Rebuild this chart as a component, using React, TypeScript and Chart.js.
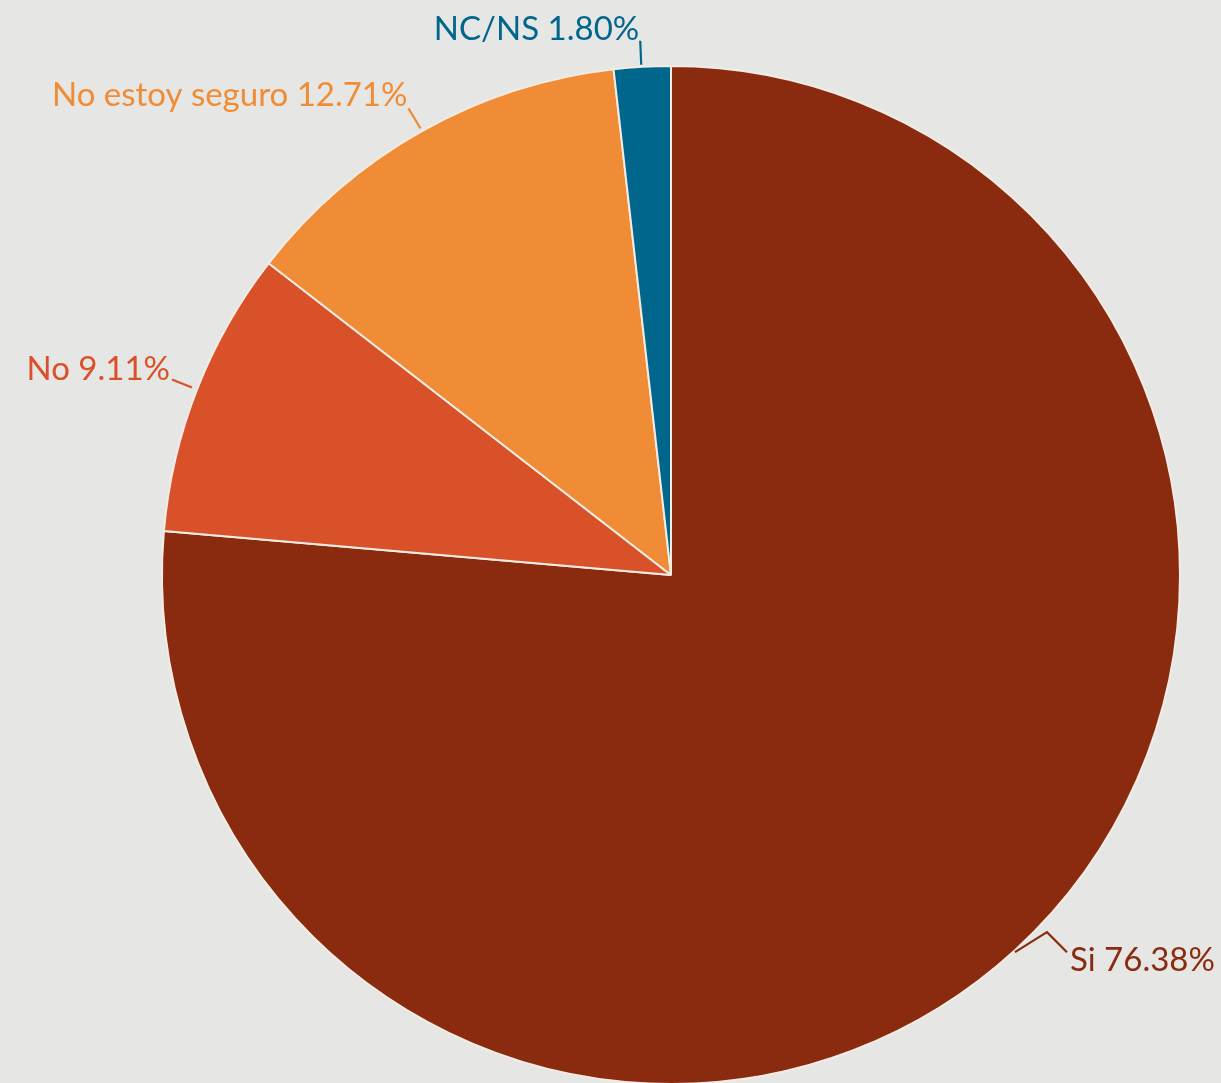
import React, { useEffect, useRef } from "react";
import { Chart, registerables } from "chart.js";

Chart.register(...registerables);

const categories = ["Si", "No", "No estoy seguro", "NC/NS"];
const values = [76.38, 9.11, 12.71, 1.8];
const colors = ["#8a2a0e", "#d95129", "#f18c36", "#00668c"];

const W = 1221;
const H = 1083;
const CH = 1100;

// leader line & label placement relative to the arc edge point (style only)
const leaderStyle = [
  { pts: [[0, 2], [32, -18], [52, 2]], text: [55, 21], align: "left" },
  { pts: [[-5, -2], [-25, -10]], text: [-27, -10], align: "right" },
  { pts: [[-1, -3], [-13, -23]], text: [-14, -25], align: "right" },
  { pts: [[-1, -2], [-2, -26]], text: [-3, -27], align: "right" },
];

const labelPlugin = {
  id: "pieLabels",
  afterDraw(chart: any) {
    const ctx = chart.ctx;
    const meta = chart.getDatasetMeta(0);
    ctx.save();
    ctx.font = "33px Lato, 'Open Sans', sans-serif";
    ctx.textBaseline = "alphabetic";
    meta.data.forEach((arc: any, i: number) => {
      const p = arc.getProps(["x", "y", "startAngle", "endAngle", "outerRadius"], true);
      const mid = (p.startAngle + p.endAngle) / 2;
      const ex = p.x + Math.cos(mid) * p.outerRadius;
      const ey = p.y + Math.sin(mid) * p.outerRadius;
      const st = leaderStyle[i];
      ctx.strokeStyle = colors[i];
      ctx.lineWidth = 2.2;
      ctx.beginPath();
      st.pts.forEach((pt: number[], k: number) => {
        if (k === 0) ctx.moveTo(ex + pt[0], ey + pt[1]);
        else ctx.lineTo(ex + pt[0], ey + pt[1]);
      });
      ctx.stroke();
      ctx.fillStyle = colors[i];
      ctx.textAlign = st.align;
      const v = values[i].toFixed(2) + "%";
      ctx.fillText(categories[i] + " " + v, ex + st.text[0], ey + st.text[1]);
    });
    ctx.restore();
  },
};

export default function App() {
  const ref = useRef<HTMLCanvasElement | null>(null);
  useEffect(() => {
    if (!ref.current) return;
    const chart = new Chart(ref.current, {
      type: "pie",
      data: {
        labels: categories,
        datasets: [
          {
            data: values,
            backgroundColor: colors,
            borderColor: "#f3ece4",
            borderWidth: 2,
            hoverBorderWidth: 2,
            hoverOffset: 0,
          },
        ],
      },
      options: {
        responsive: false,
        animation: false,
        events: [],
        layout: { padding: { left: 161, right: 40, top: 65, bottom: CH - 65 - 1020 } },
        plugins: { legend: { display: false }, tooltip: { enabled: false } },
      },
      plugins: [labelPlugin],
    } as any);
    return () => chart.destroy();
  }, []);
  return (
    <div
      style={{
        position: "fixed",
        left: 0,
        top: 0,
        width: W,
        height: H,
        overflow: "hidden",
        background: "#e6e6e4",
      }}
    >
      <canvas ref={ref} width={W} height={CH} style={{ display: "block", width: W, height: CH }} />
    </div>
  );
}
